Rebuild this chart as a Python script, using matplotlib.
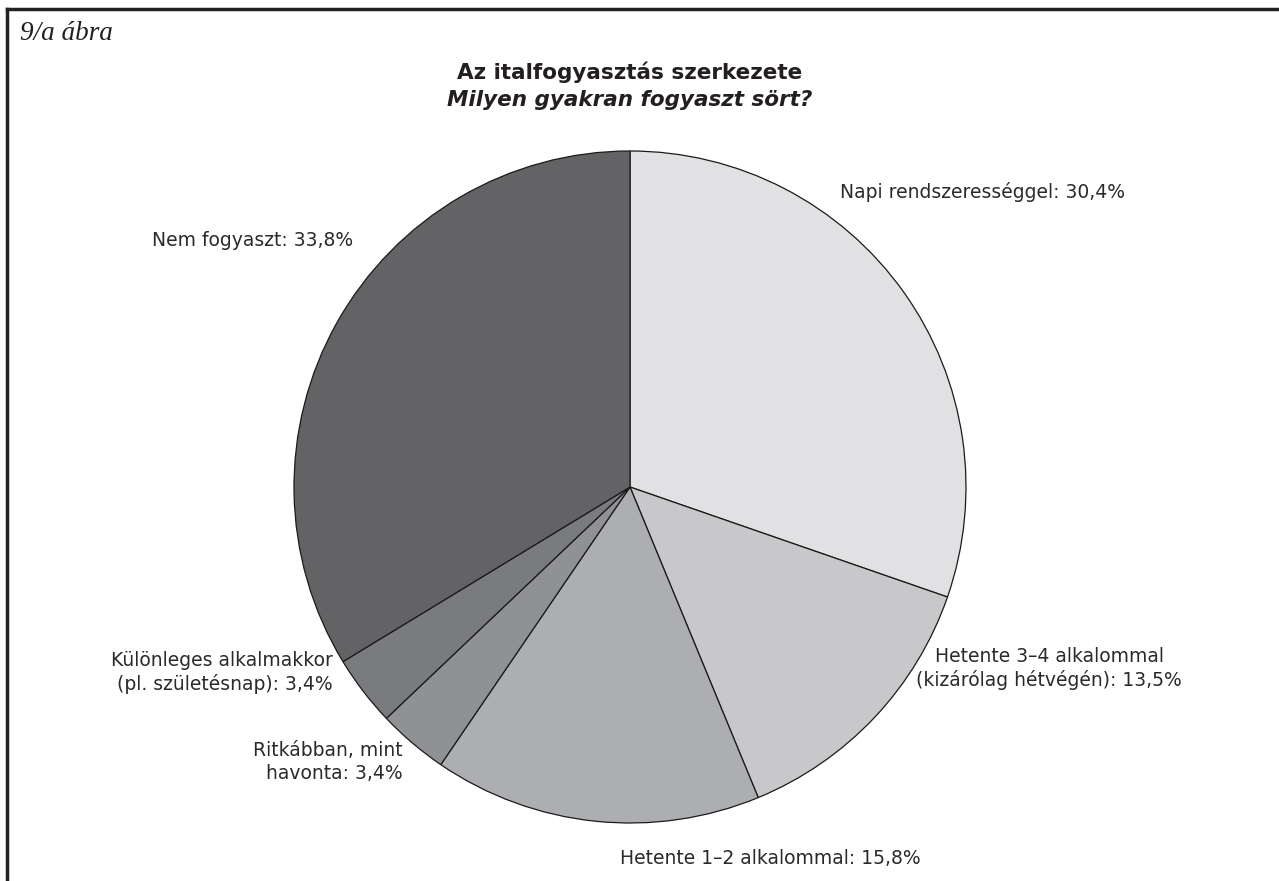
import matplotlib.pyplot as plt
from matplotlib.lines import Line2D

labels = ['Napi rendszerességgel: 30,4%',
          'Hetente 3–4 alkalommal\n(kizárólag hétvégén): 13,5%',
          'Hetente 1–2 alkalommal: 15,8%',
          'Ritkábban, mint\nhavonta: 3,4%',
          'Különleges alkalmakkor\n(pl. születésnap): 3,4%',
          'Nem fogyaszt: 33,8%']
values = [30.4, 13.5, 15.8, 3.4, 3.4, 33.8]
colors = ['#e1e1e3', '#c8c8ca', '#adaeb1', '#909195', '#7a7b7f', '#636365']

W, H = 1279, 881
fig = plt.figure(figsize=(W / 100, H / 100), dpi=100)
ax = fig.add_axes([0, 0, 1, 1])

cx, cy, r = 630, H - 487, 336
ax.pie(values, colors=colors, startangle=90, counterclock=False,
       center=(cx, cy), radius=r, frame=True,
       wedgeprops=dict(edgecolor='#1a1a1a', linewidth=0.9))
ax.set_xlim(0, W)
ax.set_ylim(0, H)
ax.set_aspect('equal')
ax.axis('off')

# label positions (pixel coords from top-left)
pos = [(840, 192, 'left', 'left'),
       (1182, 668, 'right', 'center'),
       (770, 858, 'center', 'center'),
       (403, 762, 'right', 'right'),
       (333, 672, 'right', 'right'),
       (152, 240, 'left', 'left')]
font = 'DejaVu Sans'
for lab, (x, y, ha, ma) in zip(labels, pos):
    ax.text(x, H - y, lab, ha=ha, va='center', multialignment=ma,
            fontsize=13.5, family=font, color='#2a2a2a', linespacing=1.25)

fig.text(630 / W, 1 - 72 / H, 'Az italfogyasztás szerkezete', ha='center',
         va='center', fontsize=15.5, fontweight='bold', family=font, color='#231f20')
fig.text(630 / W, 1 - 100 / H, 'Milyen gyakran fogyaszt sört?', ha='center',
         va='center', fontsize=15.5, fontweight='bold', style='italic', family=font,
         color='#231f20')
fig.text(20 / W, 1 - 33 / H, '9/a ábra', ha='left', va='center', fontsize=19.5,
         style='italic', family='Liberation Serif', color='#231f20')

# frame: top and left lines
fig.add_artist(Line2D([7 / W, 1], [1 - 9 / H, 1 - 9 / H], color='#222222', lw=2.5))
fig.add_artist(Line2D([7 / W, 7 / W], [0, 1 - 9 / H], color='#222222', lw=2.5))

fig.savefig('out.png', dpi=100)
